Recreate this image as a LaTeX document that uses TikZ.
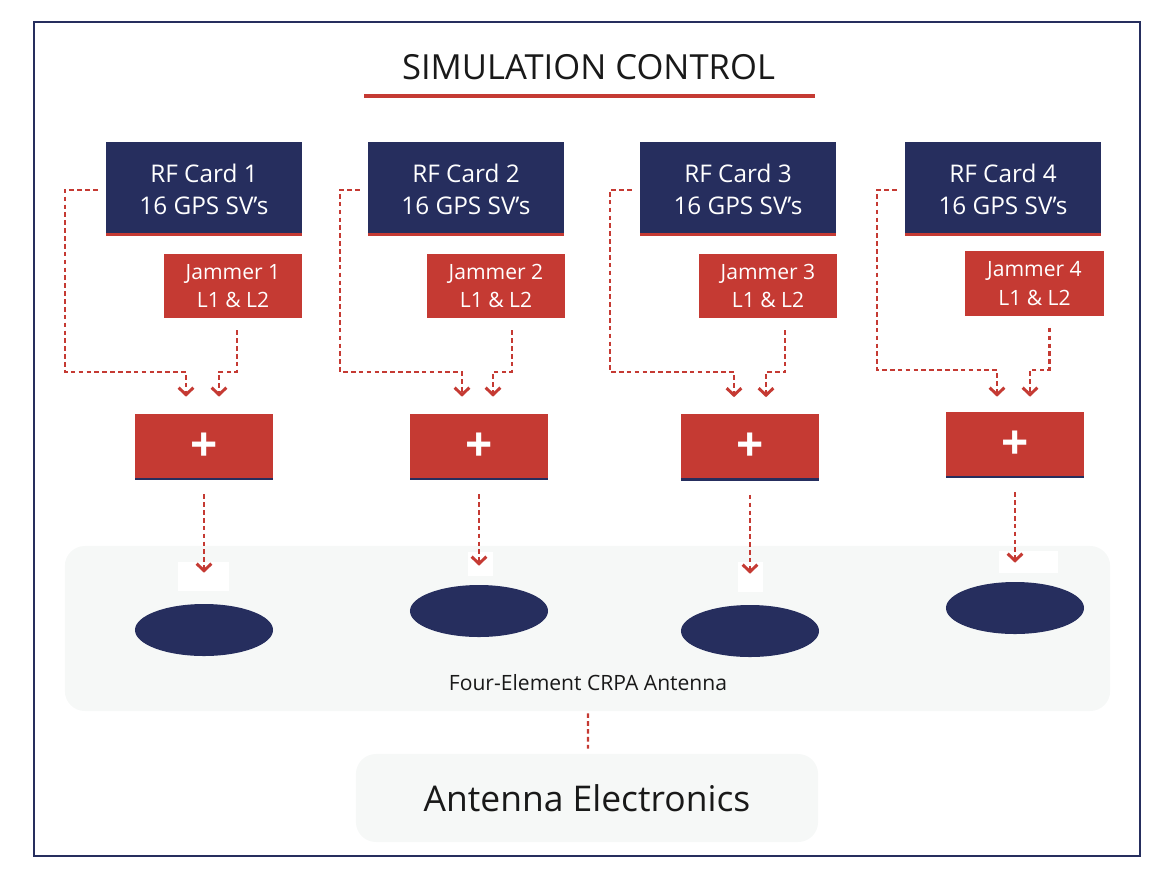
\documentclass[tikz,border=0pt]{standalone}
\usepackage{fontspec}
\setmainfont{Open Sans}
\usetikzlibrary{shapes.geometric,arrows.meta,calc}

\definecolor{navy}{HTML}{262E5E}
\definecolor{jamred}{HTML}{C53A33}
\definecolor{panelgray}{HTML}{F6F8F7}

\tikzset{
  card/.style={fill=navy, text=white, minimum width=4.9cm, minimum height=2.35cm, align=center,
    font=\fontsize{17.3}{22.8}\selectfont,
    path picture={\fill[jamred] (path picture bounding box.south west) rectangle ([yshift=2pt]path picture bounding box.south east);}},
  jambox/.style={fill=jamred, text=white, minimum width=3.45cm, minimum height=1.6cm, align=center,
    font=\fontsize{15}{20}\selectfont},
  sumbox/.style={fill=jamred, text=white, minimum width=3.45cm, minimum height=1.65cm,
    font=\fontsize{34}{34}\selectfont\bfseries,
    path picture={\fill[navy] (path picture bounding box.south west) rectangle ([yshift=1.6pt]path picture bounding box.south east);}},
  elem/.style={ellipse, fill=navy, inner sep=0pt, minimum width=3.45cm, minimum height=1.3cm},
  panel/.style={fill=panelgray, rounded corners=0.5cm, inner sep=0pt},
  patch/.style={fill=white, inner sep=0pt},
  sig/.style={jamred, line width=1.6pt, dash pattern=on 3.3pt off 2.3pt},
  tip/.style={-{Straight Barb[length=5pt, width=10.5pt, line width=2.1pt]}}
}

\begin{document}
\begin{tikzpicture}[x=0.025cm, y=-0.025cm]
%\draw[help lines] (0,0) grid[step=50] (1165,875);
\useasboundingbox (0,0) rectangle (1165,875);
\draw[navy, line width=1pt] (34,22) rectangle (1140,856);

% title
\node[text=black!90, font=\fontsize{24.6}{24.6}\selectfont] (title) at (588.5,67) {SIMULATION CONTROL};
\draw[jamred, line width=3pt] (364,96) -- (815,96);

% panels at the bottom
\node[panel, minimum width=26.125cm, minimum height=4.125cm] (crpa) at (587.5,628.5) {};
\node[font=\fontsize{15}{15}\selectfont, text=black!90] (crpalbl) at (588,683) {Four-Element CRPA Antenna};
\node[panel, minimum width=11.55cm, minimum height=2.2cm, text=black!90,
      font=\fontsize{25.2}{25.2}\selectfont] (elec) at (587,798) {Antenna Electronics};

% rf cards
\node[card] (c1) at (204,189) {RF Card 1\\16 GPS SV’s};
\node[card] (c2) at (466,189) {RF Card 2\\16 GPS SV’s};
\node[card] (c3) at (738,189) {RF Card 3\\16 GPS SV’s};
\node[card] (c4) at (1003,189) {RF Card 4\\16 GPS SV’s};

% jammers
\node[jambox] (j1) at (233,286) {Jammer 1\\L1 \& L2};
\node[jambox] (j2) at (496,286) {Jammer 2\\L1 \& L2};
\node[jambox] (j3) at (768,286) {Jammer 3\\L1 \& L2};
\node[jambox] (j4) at (1034.5,283.5) {Jammer 4\\L1 \& L2};

% summing boxes
\node[sumbox] (p1) at (204,447) {+};
\node[sumbox] (p2) at (479,447) {+};
\node[sumbox] (p3) at (750,447.5) {+};
\node[sumbox] (p4) at (1015,445) {+};

% white patches over the panel
\node[patch, minimum width=1.275cm, minimum height=0.725cm] (w1) at (203.5,576.5) {};
\node[patch, minimum width=0.625cm, minimum height=0.6cm] (w2) at (480.5,564) {};
\node[patch, minimum width=0.625cm, minimum height=0.75cm] (w3) at (750.5,577) {};
\node[patch, minimum width=1.475cm, minimum height=0.55cm] (w4) at (1028.5,562) {};

% antenna elements
\node[elem] (e1) at (204,630) {};
\node[elem] (e2) at (479,611) {};
\node[elem] (e3) at (750,631) {};
\node[elem] (e4) at (1015,608) {};

% card -> sum
\draw[sig, tip] ($(c1.west)+(-8,1)$) -| (65,372) -| ($(p1.north)+(-18,-17)$);
\draw[sig, tip] ($(c2.west)+(-8,1)$) -| (340,372) -| ($(p2.north)+(-17,-17)$);
\draw[sig, tip] ($(c3.west)+(-8,1)$) -| (610,372) -| ($(p3.north)+(-16,-17)$);
\draw[sig, tip] ($(c4.west)+(-8,1)$) -| (877,370) -| ($(p4.north)+(-18,-15)$);

% jammer -> sum
\draw[sig, tip] ($(j1.south)+(4,12)$) |- ($(p1.north)+(15,-42)$) -- ($(p1.north)+(15,-17)$);
\draw[sig, tip] ($(j2.south)+(16,12)$) |- ($(p2.north)+(14,-42)$) -- ($(p2.north)+(14,-17)$);
\draw[sig, tip] ($(j3.south)+(17,12)$) |- ($(p3.north)+(16,-42)$) -- ($(p3.north)+(16,-17)$);
\draw[sig, tip] ($(j4.south)+(15,12)$) |- ($(p4.north)+(15,-42)$) -- ($(p4.north)+(15,-15)$);

% sum -> element
\draw[sig, tip] ($(p1.south)+(0,14)$) -- ($(p1.south |- w1.north)+(0,11)$);
\draw[sig, tip] ($(p2.south)+(0,14)$) -- ($(p2.south |- w2.north)+(0,14)$);
\draw[sig, tip] ($(p3.south)+(0,14)$) -- ($(p3.south |- w3.north)+(0,12)$);
\draw[sig, tip] ($(p4.south)+(0,14)$) -- ($(p4.south |- w4.north)+(0,12)$);

% crpa -> electronics
\draw[sig] ($(crpa.south)+(0.5,2)$) -- ($(elec.north)+(1,-5)$);

\end{tikzpicture}
\end{document}
